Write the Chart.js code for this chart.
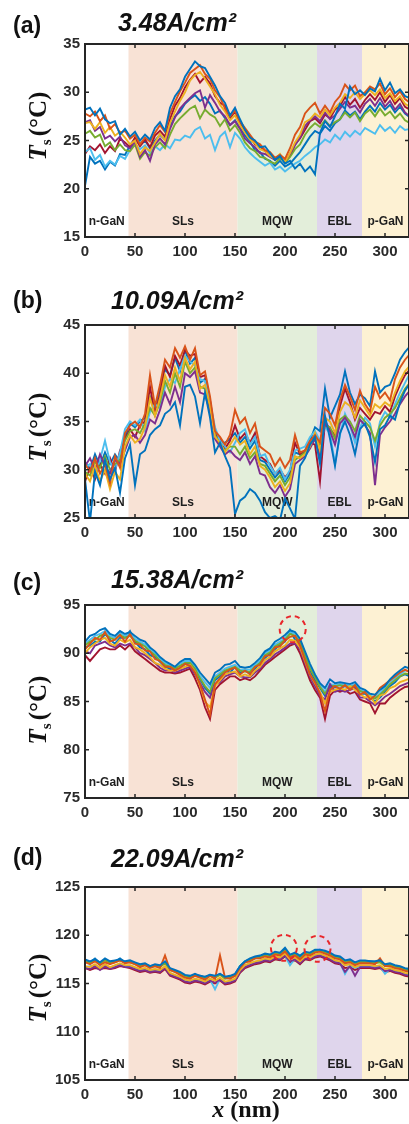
<!DOCTYPE html>
<html>
<head>
<meta charset="utf-8">
<script src="https://cdn.jsdelivr.net/npm/chart.js@4.4.0/dist/chart.umd.min.js"></script>
<style>
  body { margin: 0; background: #fff; overflow: hidden; }
  #wrap { position: relative; width: 409px; height: 1124px; overflow: hidden; }
  canvas { position: absolute; left: 0; }
</style>
</head>
<body>
<div id="wrap">
  <canvas id="panel0" width="410" height="280" style="top:0px"></canvas>
  <canvas id="panel1" width="410" height="280" style="top:281px"></canvas>
  <canvas id="panel2" width="410" height="280" style="top:561px"></canvas>
  <canvas id="panel3" width="410" height="281" style="top:843px"></canvas>
</div>
<script>
// position along the structure (nm)
const xs = [0,5,10,15,20,25,30,35,40,45,50,
  55,60,65,70,75,80,85,90,95,100,105,
  110,115,120,125,130,135,140,145,150,155,160,
  165,170,175,180,185,190,195,200,205,210,215,
  220,225,230,235,240,245,250,255,260,265,270,
  275,280,285,290,295,300,305,310,315,320,325];

const xTicks = [0, 50, 100, 150, 200, 250, 300];

// epitaxial layers
const layerNames = ['n-GaN', 'SLs', 'MQW', 'EBL', 'p-GaN'];
const layerEdges = [0, 43.5, 152.5, 232, 277, 324];

const panelTags = ['(a)', '(b)', '(c)', '(d)'];
const currents = ['3.48A/cm²', '10.09A/cm²', '15.38A/cm²', '22.09A/cm²'];
const yMins = [15, 25, 75, 105];
const yMaxs = [35, 45, 95, 125];
const yTicksA = [15, 20, 25, 30, 35];
const yTicksB = [25, 30, 35, 40, 45];
const yTicksC = [75, 80, 85, 90, 95];
const yTicksD = [105, 110, 115, 120, 125];

// dashed markers (data coordinates)
const circlesC = [[207.7, 92.5]];
const circlesD = [[198.9, 118.7], [232.5, 118.6]];

// (a) 3.48 A/cm2
const a1 = [28.2,28.4,27.6,28.3,27.2,26.8,27.0,25.6,26.2,25.4,25.9,
  25.0,25.6,25.1,26.3,26.9,26.0,28.4,29.6,30.3,31.6,32.4,
  33.2,32.7,32.5,31.6,30.7,29.6,28.9,27.6,28.4,27.2,26.1,
  25.3,25.0,24.3,24.4,23.7,23.0,23.4,22.6,22.9,22.1,22.6,
  21.8,22.3,21.5,25.8,27.0,26.4,27.5,28.8,28.3,30.6,29.8,
  30.2,29.7,30.4,30.1,31.4,30.2,31.0,29.9,30.3,29.6,29.4];
const a2 = [27.8,27.5,28.0,27.0,27.6,26.2,26.7,25.8,26.0,25.2,25.6,
  24.6,25.3,24.9,25.8,26.6,25.9,27.8,29.0,30.1,31.0,32.0,
  32.4,32.8,31.9,31.4,30.2,29.5,28.3,27.5,28.1,27.0,26.3,
  25.6,24.9,24.6,24.0,23.8,23.2,23.5,23.1,24.2,25.6,26.4,
  27.8,28.4,28.9,27.8,28.6,27.9,29.0,29.6,30.8,30.2,30.7,
  29.6,30.0,30.6,30.3,30.9,29.8,30.4,29.5,30.1,29.3,28.9];
const a3 = [26.8,26.9,26.2,26.9,25.8,26.4,25.5,25.9,25.3,24.6,25.0,
  23.6,24.3,23.9,24.8,25.7,25.0,26.8,28.0,29.1,30.0,31.2,
  31.8,32.1,31.4,30.6,29.8,28.7,28.0,27.1,27.6,26.6,25.8,
  25.1,24.7,24.1,23.9,23.4,23.1,23.6,22.8,23.7,24.8,25.6,
  26.9,27.2,27.8,27.4,28.2,27.6,28.4,28.9,29.8,29.4,30.0,
  29.3,29.8,30.2,29.7,30.3,29.4,29.9,29.1,29.6,28.8,28.5];
const a4 = [26.9,27.1,26.0,26.4,25.2,25.5,24.9,25.4,24.5,24.2,24.9,
  23.3,24.0,22.9,24.6,25.2,24.6,26.2,27.4,28.3,28.9,29.4,
  29.9,30.2,28.4,29.7,28.9,28.0,27.5,26.6,27.0,26.2,25.2,
  24.7,24.3,23.7,23.6,23.3,23.0,23.4,22.9,23.6,24.5,25.3,
  26.5,27.1,27.5,27.0,27.9,27.2,27.6,28.3,29.0,28.4,28.6,
  27.9,28.8,29.3,28.6,29.4,28.5,29.1,28.2,28.8,27.9,27.5];
const a5 = [25.7,26.0,25.3,25.6,24.4,24.8,24.0,24.6,24.0,23.9,24.6,
  23.1,23.8,23.4,24.3,24.8,24.2,25.6,26.7,27.3,27.8,28.3,
  28.6,27.3,28.2,27.7,27.4,26.5,27.2,26.0,26.6,25.8,24.8,
  24.2,23.9,23.3,23.2,22.8,22.6,23.2,22.7,23.3,24.1,24.6,
  25.6,26.3,26.8,26.4,27.1,26.5,26.9,27.2,27.9,27.4,27.9,
  27.0,27.8,28.2,27.5,28.3,27.6,28.0,27.3,27.8,27.1,26.8];
const a6 = [23.8,24.2,23.0,23.5,22.3,22.9,22.5,23.4,23.1,24.0,24.6,
  24.1,24.5,23.7,24.4,24.0,24.6,24.2,25.1,25.0,25.5,25.3,
  26.1,26.4,25.2,25.6,24.0,25.4,25.9,24.3,25.8,25.2,24.3,
  23.7,23.2,22.8,22.4,22.7,22.0,22.3,21.8,22.2,22.6,22.9,
  23.4,23.8,24.3,24.6,25.1,24.8,25.6,25.1,25.9,25.4,26.0,
  25.6,26.3,26.0,25.7,26.6,26.0,26.4,25.8,26.5,26.1,26.2];
const a7 = [23.6,24.4,24.0,24.6,23.7,24.4,23.9,25.2,24.8,24.3,25.3,
  24.4,25.1,24.3,25.5,26.0,25.4,27.2,28.6,29.4,30.5,31.3,
  31.9,31.0,31.6,30.9,29.6,28.9,28.6,27.3,28.0,26.8,25.9,
  25.4,24.6,24.4,23.9,23.5,23.0,23.3,22.8,23.4,24.6,25.2,
  26.1,27.0,27.3,26.8,27.7,27.3,28.2,28.6,29.5,28.7,29.3,
  28.4,29.2,29.8,29.2,30.0,29.0,29.7,28.8,29.4,28.5,28.2];
const a8 = [20.3,23.3,22.6,22.9,22.0,22.8,22.4,23.6,23.5,24.5,25.2,
  24.5,25.0,24.2,25.0,25.6,25.1,26.4,27.5,28.0,28.8,29.3,
  29.7,29.1,29.5,28.8,27.8,28.1,27.3,26.6,27.1,26.3,25.5,
  24.9,24.0,23.8,23.1,22.9,22.4,22.9,22.3,22.6,23.2,23.8,
  24.6,25.4,26.0,25.7,26.5,26.0,26.8,27.2,28.1,27.6,28.0,
  27.2,28.0,28.6,28.0,28.9,28.2,28.7,27.9,28.5,27.8,27.4];

// (b) 10.09 A/cm2
const b1 = [29.0,24.6,29.8,28.4,31.0,29.0,30.2,27.6,31.2,32.6,28.4,
  31.6,32.0,33.6,34.2,34.6,35.8,36.2,37.0,34.6,38.6,38.8,
  37.6,34.8,38.0,35.4,31.8,32.8,31.4,30.2,25.4,26.8,27.2,
  28.0,27.6,26.8,25.6,25.0,25.2,24.8,27.0,26.0,24.9,30.4,
  31.2,32.6,33.4,30.6,35.6,33.2,30.4,33.8,35.0,33.6,31.6,
  34.2,34.8,33.4,30.8,34.2,34.6,35.6,35.2,37.0,38.2,39.0];
const b2 = [30.6,29.8,31.2,29.6,30.6,28.6,31.4,30.2,33.8,34.6,35.0,
  34.4,35.8,39.8,36.6,38.8,41.4,40.6,42.6,41.6,42.8,41.4,
  42.6,39.8,40.2,37.6,34.0,33.4,32.6,33.6,36.2,34.8,35.4,
  33.8,34.8,32.4,32.0,31.6,30.4,31.2,30.2,31.0,33.6,31.8,
  32.0,33.0,33.6,32.8,36.4,35.8,34.6,37.2,38.8,37.6,36.2,
  38.2,36.8,36.0,38.6,37.4,38.0,37.2,39.4,40.6,41.4,42.0];
const b3 = [29.6,28.8,30.4,28.8,30.0,28.0,29.8,29.0,32.4,33.6,32.8,
  33.2,34.4,37.4,35.6,37.4,39.8,38.6,40.6,39.2,41.6,40.4,
  41.2,38.4,38.8,36.6,33.4,32.8,31.8,32.6,33.4,32.6,33.0,
  31.6,32.4,30.4,30.0,29.2,28.2,28.8,27.8,28.6,31.4,31.2,
  31.6,32.4,33.8,32.0,35.4,35.0,33.8,36.0,37.0,36.6,35.4,
  37.2,36.4,35.6,36.8,36.4,37.0,36.6,38.0,39.2,40.2,40.8];
const b4 = [30.4,31.2,30.0,31.6,30.4,29.6,31.0,30.6,32.0,33.4,33.6,
  32.8,33.6,35.2,34.8,36.2,38.0,36.8,38.6,37.0,40.0,39.6,
  40.2,38.0,37.8,36.0,33.2,32.4,31.6,32.0,31.4,31.0,31.8,
  30.6,31.4,29.6,29.4,28.2,27.6,28.4,27.2,28.0,30.6,31.0,
  31.4,32.2,33.2,31.4,34.8,34.0,32.6,34.8,35.4,34.6,33.4,
  35.2,34.6,33.8,28.4,33.6,34.4,35.0,35.8,36.8,37.6,38.2];
const b5 = [29.8,29.4,30.8,30.2,31.4,30.0,30.6,31.0,33.0,34.0,34.2,
  33.8,34.8,36.4,35.6,37.0,39.2,38.0,40.0,38.6,41.2,40.0,
  40.6,38.6,38.4,36.4,33.6,32.6,32.0,32.4,32.4,31.6,32.4,
  31.2,31.8,30.6,30.4,29.6,28.8,29.4,28.4,29.2,31.0,31.4,
  31.8,32.6,33.4,32.4,34.6,34.4,33.2,35.2,35.6,35.0,34.0,
  35.6,35.0,34.4,33.0,34.6,35.4,35.8,36.4,37.4,38.4,39.0];
const b6 = [30.2,30.6,29.4,31.0,33.0,30.8,30.0,31.8,34.2,35.0,34.6,
  35.2,34.0,36.0,36.8,36.4,38.6,39.4,39.0,40.4,41.8,41.2,
  40.8,39.4,39.2,37.0,34.4,33.0,32.4,31.8,32.8,33.8,34.2,
  32.6,33.4,31.4,31.6,30.4,29.6,30.2,29.0,30.0,32.0,32.2,
  32.4,33.4,34.0,33.0,34.4,33.8,30.6,33.6,35.8,34.6,32.8,
  34.4,35.4,34.8,32.4,35.0,36.0,35.4,36.8,38.0,39.0,40.0];
const b7 = [28.8,30.2,29.0,30.6,29.6,31.2,29.8,32.0,33.2,34.2,33.4,
  34.6,35.0,38.6,35.8,37.8,40.8,39.6,41.8,40.8,42.4,41.8,
  42.0,39.6,39.8,37.2,33.8,33.2,32.2,33.0,34.6,33.2,33.8,
  32.8,33.8,31.4,31.0,30.6,29.6,30.0,29.2,29.8,32.8,31.6,
  31.8,32.8,32.6,28.8,35.0,34.2,33.6,36.6,38.4,37.0,35.2,
  36.4,35.8,35.2,36.0,35.8,36.6,36.0,37.6,38.8,39.8,40.4];
const b8 = [30.8,30.0,31.6,30.4,31.8,30.6,31.6,30.8,33.4,34.8,34.4,
  35.0,35.4,37.6,36.4,38.4,40.4,39.8,41.6,40.2,42.4,41.0,
  41.6,39.0,39.4,37.0,33.6,32.8,32.8,33.2,33.8,32.8,33.4,
  32.2,33.0,31.0,30.8,30.0,29.2,29.8,28.8,29.6,31.8,31.6,
  32.0,33.0,34.4,34.0,38.4,35.4,36.6,37.8,40.2,38.0,36.8,
  37.8,37.4,36.6,40.2,38.0,38.6,38.8,40.0,41.4,42.2,42.8];

// (c) 15.38 A/cm2
const c1 = [91.2,91.8,92.0,92.4,92.6,92.0,91.8,92.3,92.0,92.2,91.8,
  91.4,91.2,90.6,90.2,89.6,89.2,88.9,88.6,89.1,89.4,89.4,
  88.8,88.0,87.4,86.8,88.0,88.3,88.8,88.9,89.2,88.6,88.5,
  88.6,89.0,89.5,90.2,90.5,91.2,91.5,91.9,92.4,92.2,91.5,
  90.2,88.9,87.8,86.9,86.4,87.3,86.9,87.0,86.9,86.8,87.0,
  86.4,86.2,85.8,85.7,86.2,86.6,87.3,87.8,88.2,88.6,88.4];
const c2 = [90.4,91.0,91.6,91.4,92.2,91.2,91.4,91.9,91.2,92.0,91.0,
  90.9,90.3,90.2,89.4,89.2,88.6,88.6,88.2,88.5,88.9,88.7,
  88.0,86.8,85.2,83.6,86.8,87.4,88.0,88.3,88.5,87.8,88.2,
  87.8,88.6,88.8,89.7,89.8,90.6,90.7,91.3,91.7,91.8,90.8,
  89.3,87.8,87.0,85.8,84.0,86.2,86.6,86.3,86.7,86.2,86.7,
  85.7,86.0,85.2,85.6,86.4,86.8,87.2,87.6,88.0,88.3,88.0];
const c3 = [90.0,90.6,91.0,91.4,91.6,91.0,90.8,91.4,91.1,91.4,90.6,
  90.4,90.0,89.6,89.0,88.8,88.4,88.2,88.2,88.4,88.6,88.8,
  88.1,86.6,85.0,84.4,86.6,87.2,87.8,88.0,88.1,87.6,87.8,
  87.6,88.2,88.6,89.3,89.6,90.2,90.5,90.8,91.4,91.3,90.6,
  89.2,87.8,86.9,86.0,84.8,86.0,86.2,86.4,86.2,86.6,86.2,
  85.8,85.4,85.6,84.8,85.6,85.8,86.4,86.6,87.0,87.2,87.4];
const c4 = [90.2,90.0,90.8,91.0,91.2,90.8,90.6,91.0,90.8,91.0,90.6,
  90.0,89.8,89.4,89.0,88.5,88.2,88.3,88.0,88.2,88.4,88.6,
  87.8,86.9,86.0,85.4,86.8,87.0,87.6,87.8,88.0,87.6,87.5,
  87.5,88.0,88.4,89.0,89.4,89.9,90.2,90.6,91.0,91.0,90.4,
  89.0,87.6,86.6,85.6,85.2,86.8,86.0,86.2,86.0,86.2,86.4,
  85.4,85.4,85.0,84.6,85.0,85.5,85.8,86.2,86.6,86.8,87.0];
const c5 = [90.8,91.2,91.4,91.8,92.0,91.6,91.4,91.9,91.6,91.8,91.3,
  91.0,90.7,90.2,89.8,89.2,88.8,88.6,88.4,88.7,89.0,89.0,
  88.4,87.4,86.6,86.0,87.4,87.8,88.2,88.4,88.6,88.2,88.1,
  88.1,88.6,89.0,89.8,90.1,90.7,91.0,91.4,92.0,91.8,91.2,
  89.8,88.4,87.5,86.5,85.8,86.6,86.6,86.7,86.6,86.5,86.6,
  86.1,85.9,85.5,85.3,85.7,86.2,86.8,87.2,87.6,87.9,87.8];
const c6 = [91.0,91.4,91.8,92.0,92.3,91.8,91.6,92.1,91.8,92.0,91.5,
  91.2,90.9,90.4,90.0,89.4,89.0,88.8,88.5,88.9,89.2,89.2,
  88.6,87.7,87.0,86.4,87.6,88.0,88.4,88.6,88.8,88.3,88.3,
  88.3,88.8,89.2,90.0,90.3,90.9,91.2,91.6,92.2,92.0,91.4,
  90.0,88.6,87.7,86.7,86.0,86.8,86.7,86.8,86.8,86.6,86.8,
  86.2,86.0,85.6,85.4,85.9,86.4,87.0,87.4,87.8,88.2,88.2];
const c7 = [89.8,89.2,89.8,90.4,90.6,90.4,90.4,90.8,90.4,90.9,90.2,
  89.8,89.4,89.0,88.6,88.2,88.0,88.0,87.9,88.0,88.2,88.4,
  87.4,86.2,84.4,83.2,86.2,86.8,87.2,87.6,87.6,87.2,87.4,
  87.2,87.6,88.2,88.8,89.2,89.6,90.0,90.4,90.8,91.0,90.0,
  88.6,87.2,86.2,85.4,83.2,85.6,86.2,86.0,86.2,85.8,86.0,
  85.2,85.0,84.8,83.8,84.8,84.8,85.4,85.8,86.2,86.5,86.6];
const c8 = [90.6,90.8,91.2,91.2,92.0,91.4,91.0,91.6,91.6,92.3,91.2,
  90.6,90.4,89.8,89.6,89.1,88.6,88.4,88.4,88.4,88.9,89.0,
  88.3,87.3,86.4,85.8,87.2,87.6,88.2,88.0,88.6,88.0,88.2,
  88.0,88.4,89.0,89.5,90.0,90.4,90.9,91.2,92.4,91.4,91.0,
  89.7,88.1,87.2,86.4,85.6,86.4,86.5,86.4,86.6,86.4,86.6,
  85.8,85.8,85.4,85.0,85.4,86.0,86.6,87.0,87.6,87.8,87.6];

// (d) 22.09 A/cm2
const d1 = [117.5,117.3,117.5,117.2,117.6,117.3,117.4,117.5,117.3,117.4,117.2,
  117.0,117.1,116.8,117.0,116.9,117.3,116.6,116.4,116.2,115.9,115.8,
  116.0,115.8,115.7,115.9,115.8,116.0,115.7,115.8,116.0,116.8,117.3,
  117.6,117.8,117.9,118.1,118.0,118.3,118.2,118.7,118.0,118.2,117.9,
  118.3,118.2,118.5,118.5,118.4,118.2,117.9,117.8,117.4,117.5,117.2,
  117.4,117.4,117.3,117.3,117.4,117.0,117.1,116.9,116.8,116.6,116.5];
const d2 = [117.2,117.0,117.3,116.9,117.2,117.0,117.2,117.4,117.1,117.2,117.0,
  116.7,116.9,116.6,116.8,116.6,117.9,116.4,116.2,115.9,115.6,115.5,
  115.8,115.6,115.4,115.8,115.5,117.9,115.6,115.5,115.8,116.6,117.2,
  117.3,117.6,117.6,117.8,117.7,118.0,117.9,118.3,117.7,117.9,117.5,
  118.0,117.9,118.2,118.3,118.1,117.9,117.6,117.5,117.1,117.2,116.9,
  117.1,117.1,117.1,117.0,117.6,116.8,116.8,116.6,116.5,116.3,116.2];
const d3 = [116.8,116.7,117.0,116.6,117.0,116.7,116.9,117.1,116.9,116.9,116.7,
  116.5,116.6,116.4,116.5,116.4,116.8,116.1,115.9,115.7,115.4,115.3,
  115.5,115.4,115.2,115.5,115.3,115.6,115.2,115.3,115.5,116.4,116.9,
  117.1,117.3,117.4,117.6,117.5,117.8,117.7,118.1,117.5,117.7,117.3,
  117.8,117.7,118.0,118.1,117.9,117.7,117.4,117.3,116.9,117.0,116.7,
  116.9,116.9,116.9,116.8,116.9,116.5,116.6,116.4,116.3,116.1,116.0];
const d4 = [116.6,116.5,116.8,116.4,116.8,116.5,116.7,116.9,116.7,116.7,116.5,
  116.3,116.4,116.2,116.3,116.2,116.6,115.9,115.7,115.5,115.2,115.1,
  115.3,115.2,115.0,115.3,115.1,115.4,115.0,115.1,115.3,116.2,116.7,
  116.9,117.1,117.2,117.4,117.3,117.6,117.5,117.9,117.3,117.5,117.1,
  117.6,117.5,117.8,117.9,117.7,117.5,117.2,117.1,116.2,116.8,115.8,
  116.7,116.7,116.7,116.6,116.7,116.3,116.4,116.2,116.1,115.9,115.8];
const d5 = [117.3,117.1,117.4,117.0,117.4,117.1,117.2,117.4,117.2,117.2,117.0,
  116.8,116.9,116.7,116.8,116.7,117.1,116.4,116.2,116.0,115.7,115.6,
  115.8,115.7,115.5,115.8,115.6,115.9,115.5,115.6,115.8,116.7,117.2,
  117.4,117.6,117.7,117.9,117.8,118.1,118.0,118.4,117.8,118.0,117.6,
  118.1,118.0,118.3,118.4,118.2,118.0,117.7,117.6,117.2,117.3,117.0,
  117.2,117.2,117.2,117.1,117.2,116.8,116.9,116.7,116.6,116.4,116.3];
const d6 = [116.7,116.8,116.9,116.7,116.9,116.6,116.8,117.0,116.8,116.8,116.6,
  116.4,116.5,116.3,116.4,116.3,116.7,116.0,115.8,115.6,115.3,115.2,
  115.4,115.3,115.1,115.4,114.4,115.5,115.1,115.2,115.4,116.3,116.8,
  117.0,117.2,117.3,117.5,117.4,117.7,117.6,117.9,116.9,117.6,117.2,
  117.7,117.6,117.9,118.0,117.8,117.6,117.3,117.2,116.0,116.9,116.6,
  116.8,116.8,116.8,116.7,116.8,116.0,116.5,116.3,116.2,116.0,115.9];
const d7 = [116.6,116.4,116.6,116.5,116.6,116.5,116.6,116.8,116.7,116.6,116.4,
  116.2,116.3,116.1,116.2,116.1,116.5,115.8,115.6,115.4,115.1,115.0,
  115.2,115.1,114.9,115.2,115.0,115.3,114.9,115.0,115.2,116.1,116.6,
  116.8,117.0,117.1,117.3,117.2,117.5,117.4,117.8,117.2,117.4,117.0,
  117.5,117.4,117.7,117.8,117.6,117.4,117.1,117.0,116.6,116.7,116.4,
  116.6,116.6,116.6,116.5,116.6,116.2,116.3,116.1,116.0,115.8,115.7];
const d8 = [117.4,117.2,117.6,117.1,117.5,117.2,117.3,117.6,117.2,117.3,117.1,
  116.9,117.0,116.8,116.9,116.8,117.2,116.5,116.3,116.1,115.8,115.7,
  115.9,115.8,115.6,115.9,115.7,116.0,115.6,115.7,115.9,116.8,117.3,
  117.5,117.7,117.8,118.0,117.9,118.2,118.1,118.6,117.9,118.1,117.7,
  118.2,118.1,118.4,118.5,118.3,118.1,117.8,117.7,117.3,117.4,117.1,
  117.3,117.3,117.3,117.2,117.3,116.9,117.0,116.8,116.7,116.5,116.4];

const panelSeries = [
  [a1, a2, a3, a4, a5, a6, a7, a8],
  [b1, b2, b3, b4, b5, b6, b7, b8],
  [c1, c2, c3, c4, c5, c6, c7, c8],
  [d1, d2, d3, d4, d5, d6, d7, d8]
];
const panelYTicks = [yTicksA, yTicksB, yTicksC, yTicksD];
const panelCircles = [[], [], circlesC, circlesD];

// styling
const lineColors = ['#0072BD', '#D95319', '#EDB120', '#7E2F8E', '#77AC30', '#4DBEEE', '#A2142F', '#0072BD'];
const layerColors = ['#ffffff', '#F8E2D5', '#E3EEDA', '#DFD5EC', '#FDF1D3'];
const tagY = [33, 27, 29, 22];
const titleY = [31, 28, 27, 24];
const yLabelY = [126, 146, 149, 145];
const PLOT_RIGHT = 409;
const PLOT_TOP = 44;
const PLOT_BOTTOM = 237;
const SANS = '"Liberation Sans", Arial, sans-serif';
const SERIF = '"Liberation Serif", "Times New Roman", serif';

Chart.defaults.font.family = SANS;

function decor(p) {
  return {
    id: 'decor' + p,
    beforeDatasetsDraw(chart) {
      const { ctx, chartArea: area, scales: { x } } = chart;
      ctx.save();
      ctx.font = 'bold 12px ' + SANS;
      ctx.textAlign = 'center';
      ctx.textBaseline = 'middle';
      for (let i = 0; i < layerNames.length; i++) {
        const x0 = x.getPixelForValue(layerEdges[i]);
        const x1 = x.getPixelForValue(layerEdges[i + 1]);
        ctx.fillStyle = layerColors[i];
        ctx.fillRect(x0, area.top, x1 - x0, area.bottom - area.top);
      }
      ctx.fillStyle = '#1e1e1e';
      for (let i = 0; i < layerNames.length; i++) {
        const x0 = x.getPixelForValue(layerEdges[i]);
        const x1 = x.getPixelForValue(layerEdges[i + 1]);
        ctx.fillText(layerNames[i], (x0 + x1) / 2, area.bottom - 15);
      }
      ctx.restore();
    },
    afterDraw(chart) {
      const { ctx, chartArea: area, scales: { x, y } } = chart;
      ctx.save();

      // dashed red markers
      ctx.strokeStyle = '#E8262B';
      ctx.lineWidth = 2;
      ctx.setLineDash([5, 4]);
      panelCircles[p].forEach(c => {
        ctx.beginPath();
        ctx.arc(x.getPixelForValue(c[0]), y.getPixelForValue(c[1]), 13, 0, Math.PI * 2);
        ctx.stroke();
      });
      ctx.setLineDash([]);

      // box and inward ticks
      ctx.strokeStyle = '#262626';
      ctx.lineWidth = 2;
      ctx.strokeRect(area.left, area.top, area.right - area.left, area.bottom - area.top);
      ctx.lineWidth = 1.5;
      ctx.beginPath();
      xTicks.forEach(v => {
        const px = x.getPixelForValue(v);
        ctx.moveTo(px, area.bottom); ctx.lineTo(px, area.bottom - 4);
        ctx.moveTo(px, area.top); ctx.lineTo(px, area.top + 4);
      });
      panelYTicks[p].forEach(v => {
        const py = y.getPixelForValue(v);
        ctx.moveTo(area.left, py); ctx.lineTo(area.left + 4, py);
        ctx.moveTo(area.right, py); ctx.lineTo(area.right - 4, py);
      });
      ctx.stroke();

      // panel tag and current density
      ctx.fillStyle = '#111';
      ctx.textBaseline = 'alphabetic';
      ctx.textAlign = 'left';
      ctx.font = 'bold 23px ' + SANS;
      ctx.fillText(panelTags[p], 13, tagY[p]);
      ctx.textAlign = 'center';
      ctx.font = 'italic bold 25px ' + SANS;
      ctx.fillText(currents[p], 177, titleY[p]);

      // y axis label: T_s (°C)
      ctx.save();
      ctx.translate(46, yLabelY[p]);
      ctx.rotate(-Math.PI / 2);
      ctx.textAlign = 'left';
      const fT = 'italic bold 25px ' + SERIF;
      const fS = 'bold 15px ' + SERIF;
      const fR = 'bold 25px ' + SERIF;
      ctx.font = fT; const wT = ctx.measureText('T').width;
      ctx.font = fS; const wS = ctx.measureText('s').width;
      ctx.font = fR; const wR = ctx.measureText('(°C)').width;
      let cx = -(wT + wS + 3 + wR) / 2;
      ctx.font = fT; ctx.fillText('T', cx, 0); cx += wT;
      ctx.font = fS; ctx.fillText('s', cx, 5); cx += wS + 3;
      ctx.font = fR; ctx.fillText('(°C)', cx, 0);
      ctx.restore();

      // x axis label on the last panel
      if (p === 3) {
        ctx.font = 'italic bold 24px ' + SERIF;
        const wx = ctx.measureText('x').width;
        ctx.font = 'bold 24px ' + SERIF;
        const wn = ctx.measureText(' (nm)').width;
        let sx = 246 - (wx + wn) / 2;
        ctx.textAlign = 'left';
        ctx.font = 'italic bold 24px ' + SERIF;
        ctx.fillText('x', sx, 274);
        ctx.font = 'bold 24px ' + SERIF;
        ctx.fillText(' (nm)', sx + wx, 274);
      }
      ctx.restore();
    }
  };
}

for (let p = 0; p < 4; p++) {
  const canvas = document.getElementById('panel' + p);
  const H = canvas.height;
  const W = canvas.width;
  const datasets = panelSeries[p].map((s, i) => ({
    data: s.map((v, k) => ({ x: xs[k], y: v })),
    borderColor: lineColors[i],
    borderWidth: 1.9,
    pointRadius: 0,
    tension: 0,
    fill: false
  }));
  new Chart(canvas.getContext('2d'), {
    type: 'line',
    data: { datasets },
    options: {
      responsive: false,
      animation: false,
      events: [],
      layout: { padding: { top: PLOT_TOP, right: W - PLOT_RIGHT, left: 0, bottom: 0 } },
      plugins: { legend: { display: false }, tooltip: { enabled: false } },
      scales: {
        x: {
          type: 'linear',
          min: 0,
          max: 324,
          grid: { display: false, drawTicks: false },
          border: { display: false },
          afterBuildTicks: s => { s.ticks = xTicks.map(v => ({ value: v })); },
          afterFit: s => { s.height = H - PLOT_BOTTOM; },
          ticks: { font: { size: 15, weight: 'bold' }, color: '#2a2a2a', padding: 6, maxRotation: 0, autoSkip: false }
        },
        y: {
          min: yMins[p],
          max: yMaxs[p],
          grid: { display: false, drawTicks: false },
          border: { display: false },
          afterBuildTicks: s => { s.ticks = panelYTicks[p].map(v => ({ value: v })); },
          afterFit: s => { s.width = 85; },
          ticks: { font: { size: 15, weight: 'bold' }, color: '#2a2a2a', padding: 5, autoSkip: false }
        }
      }
    },
    plugins: [decor(p)]
  });
}
</script>
</body>
</html>
